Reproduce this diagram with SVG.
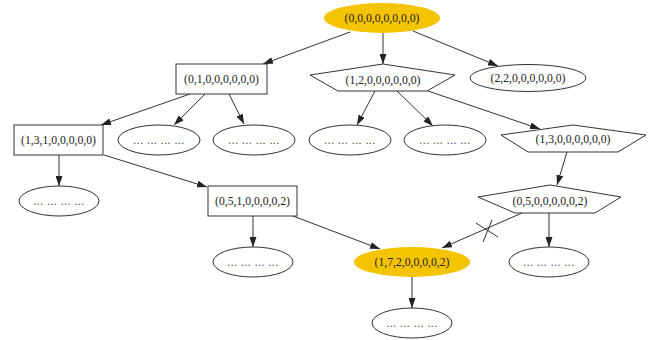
<svg xmlns="http://www.w3.org/2000/svg" width="649" height="340" viewBox="0 0 649 340">
<style>
.s{fill:#fff;stroke:#333;stroke-width:1}
.y{fill:#F5C400;stroke:none}
.t{font-family:"Liberation Serif","Times New Roman",serif;font-size:11.7px;fill:#222;text-anchor:middle}
.d{font-family:"Liberation Serif","Times New Roman",serif;font-size:11.7px;fill:#555;text-anchor:middle;letter-spacing:0.5px}
.e{stroke:#333;stroke-width:1;fill:none}
</style>
<defs>
<marker id="a" markerUnits="userSpaceOnUse" markerWidth="10" markerHeight="7" refX="10" refY="3.5" orient="auto">
<path d="M0,0 L10,3.5 L0,7 z" fill="#222"/>
</marker>
</defs>
<g id="edges">
<line class="e" x1="350" y1="32" x2="263" y2="64" marker-end="url(#a)"/>
<line class="e" x1="383" y1="33" x2="383" y2="64" marker-end="url(#a)"/>
<line class="e" x1="413" y1="31" x2="498" y2="66" marker-end="url(#a)"/>
<line class="e" x1="190" y1="94" x2="101" y2="125" marker-end="url(#a)"/>
<line class="e" x1="205" y1="94" x2="174" y2="125" marker-end="url(#a)"/>
<line class="e" x1="229" y1="94" x2="244" y2="124" marker-end="url(#a)"/>
<line class="e" x1="375" y1="91" x2="357" y2="125" marker-end="url(#a)"/>
<line class="e" x1="397" y1="91" x2="433" y2="126" marker-end="url(#a)"/>
<line class="e" x1="425" y1="90" x2="540" y2="129" marker-end="url(#a)"/>
<line class="e" x1="567" y1="152" x2="557" y2="185" marker-end="url(#a)"/>
<line class="e" x1="59" y1="155" x2="59" y2="186" marker-end="url(#a)"/>
<line class="e" x1="104" y1="155" x2="207" y2="187" marker-end="url(#a)"/>
<line class="e" x1="253" y1="216" x2="253" y2="247" marker-end="url(#a)"/>
<line class="e" x1="293" y1="216" x2="380" y2="249" marker-end="url(#a)"/>
<line class="e" x1="522" y1="213" x2="442" y2="248" marker-end="url(#a)"/>
<line class="e" x1="492" y1="220" x2="483" y2="242"/>
<line class="e" x1="476" y1="223" x2="498" y2="237"/>
<line class="e" x1="549" y1="213" x2="549" y2="247" marker-end="url(#a)"/>
<line class="e" x1="412" y1="277" x2="412" y2="308" marker-end="url(#a)"/>
</g>
<g id="n0"><ellipse class="y" cx="382" cy="18" rx="58" ry="15"/><text class="t" x="382" y="22">(0,0,0,0,0,0,0,0)</text></g>
<g id="n1"><rect class="s" x="176" y="64" width="91" height="30"/><text class="t" x="221.5" y="83">(0,1,0,0,0,0,0,0)</text></g>
<g id="n2"><polygon class="s" points="383,64 455,75 427,91 338,91 310,75"/><text class="t" x="383" y="84">(1,2,0,0,0,0,0,0)</text></g>
<g id="n3"><ellipse class="s" cx="528" cy="78" rx="58" ry="13.5"/><text class="t" x="528" y="82">(2,2,0,0,0,0,0,0)</text></g>
<g id="n4"><rect class="s" x="14" y="125" width="89" height="30"/><text class="t" x="58.5" y="144">(1,3,1,0,0,0,0,0)</text></g>
<g id="n5"><ellipse class="s" cx="159" cy="140" rx="41" ry="15"/><text class="d" x="159" y="144">... ... ... ...</text></g>
<g id="n6"><ellipse class="s" cx="254" cy="140" rx="41" ry="15"/><text class="d" x="254" y="144">... ... ... ...</text></g>
<g id="n7"><ellipse class="s" cx="350" cy="140" rx="41" ry="15"/><text class="d" x="350" y="144">... ... ... ...</text></g>
<g id="n8"><ellipse class="s" cx="445" cy="140" rx="41" ry="15"/><text class="d" x="445" y="144">... ... ... ...</text></g>
<g id="n9"><polygon class="s" points="573,125 646,135 618,152 528,152 501,135"/><text class="t" x="573" y="143">(1,3,0,0,0,0,0,0)</text></g>
<g id="n10"><ellipse class="s" cx="59" cy="201" rx="40" ry="15"/><text class="d" x="59" y="205">... ... ... ...</text></g>
<g id="n11"><rect class="s" x="208" y="186" width="89" height="30"/><text class="t" x="252.5" y="205">(0,5,1,0,0,0,0,2)</text></g>
<g id="n12"><polygon class="s" points="550,185 621,197 595,213 515,213 478,197"/><text class="t" x="550" y="205">(0,5,0,0,0,0,0,2)</text></g>
<g id="n13"><ellipse class="y" cx="412" cy="262" rx="58" ry="15"/><text class="t" x="412" y="266">(1,7,2,0,0,0,0,2)</text></g>
<g id="n14"><ellipse class="s" cx="253" cy="262" rx="40" ry="15"/><text class="d" x="253" y="266">... ... ... ...</text></g>
<g id="n15"><ellipse class="s" cx="549" cy="262" rx="40" ry="15"/><text class="d" x="549" y="266">... ... ... ...</text></g>
<g id="n16"><ellipse class="s" cx="412" cy="323" rx="40" ry="15"/><text class="d" x="412" y="327">... ... ... ...</text></g>
</svg>
